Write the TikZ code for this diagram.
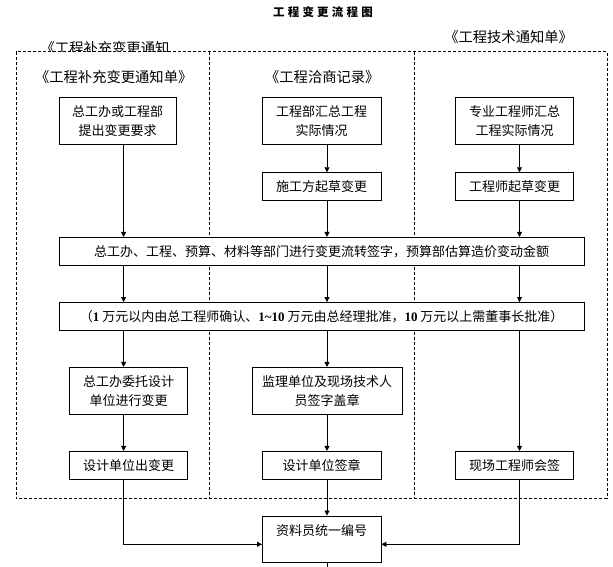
\documentclass[tikz,border=0pt]{standalone}
\usepackage{fontspec}
\setmainfont{Liberation Serif}
\newfontfamily\cjk{Noto Sans CJK SC}
\usetikzlibrary{arrows.meta}
\begin{document}
\begin{tikzpicture}[x=1pt,y=-1pt,
  box/.style={draw, fill=white, line width=0.8pt, align=center, inner sep=0pt,
    font=\cjk\fontsize{13}{19}\selectfont},
  lbl/.style={inner sep=0pt, font=\cjk\fontsize{14.3}{17}\selectfont},
  arr/.style={line width=0.8pt, -{Triangle[length=5pt,width=5pt]}},
  plain/.style={line width=0.8pt},
  frame/.style={line width=0.7pt, dash pattern=on 3pt off 2pt}]
\useasboundingbox (0,0) rectangle (613,567);
% title
\node[inner sep=0pt, font=\cjk\bfseries\fontsize{11.5}{14}\selectfont\addfontfeature{LetterSpace=28}] (title) at (323,11.7) {工程变更流程图};
% dashed frame
\draw[frame] (16,51.7) rectangle (607,498.3);
\draw[frame] (209,51.7) -- (209,498.3);
\draw[frame] (414,51.7) -- (414,498.3);
% labels
\begin{scope}
\clip (0,0) rectangle (613,51.7);
\node[lbl] (l0) at (105,48) {《工程补充变更通知};
\end{scope}
\node[lbl] (l3) at (508.6,36.7) {《工程技术通知单》};
\node[lbl] (l1) at (113.7,77) {《工程补充变更通知单》};
\node[lbl] (l2) at (322.3,77) {《工程洽商记录》};
% column lines
\coordinate (c1) at (123.6,0);
\coordinate (c2) at (327,0);
\coordinate (c3) at (519.5,0);
% connectors (drawn first so boxes sit on top)
\coordinate (m) at (0,544.3);
\coordinate (fend) at (327,567);
% boxes
\node[box, minimum width=117.5pt, minimum height=46.7pt] (b1) at (117.7,120.7) {总工办或工程部\\提出变更要求};
\node[box, minimum width=118.6pt, minimum height=46.7pt] (b2) at (321.7,120.7) {工程部汇总工程\\实际情况};
\node[box, minimum width=117.7pt, minimum height=46.7pt] (b3) at (514.6,120.7) {专业工程师汇总\\工程实际情况};
\node[box, minimum width=118.6pt, minimum height=27.3pt] (s2) at (321.7,186.3) {施工方起草变更};
\node[box, minimum width=117.7pt, minimum height=27.3pt] (s3) at (514.6,186.3) {工程师起草变更};
\node[box, minimum width=525.4pt, minimum height=27.7pt] (w1) at (321.7,251.2) {总工办、工程、预算、材料等部门进行变更流转签字，预算部估算造价变动金额};
\node[box, minimum width=525.4pt, minimum height=27.7pt] (w2) at (321.7,316.3) {（{\rmfamily\bfseries 1} 万元以内由总工程师确认、{\rmfamily\bfseries 1\textasciitilde 10} 万元由总经理批准，{\rmfamily\bfseries 10} 万元以上需董事长批准）};
\node[box, minimum width=117.7pt, minimum height=46.7pt] (d1) at (128.6,390.7) {总工办委托设计\\单位进行变更};
\node[box, minimum width=150pt, minimum height=46.7pt] (d2) at (327,390.7) {监理单位及现场技术人\\员签字盖章};
\node[box, minimum width=117.7pt, minimum height=27.7pt] (e1) at (128.6,465.2) {设计单位出变更};
\node[box, minimum width=118.6pt, minimum height=27.7pt] (e2) at (321.7,465.2) {设计单位签章};
\node[box, minimum width=117.7pt, minimum height=27.7pt] (e3) at (514.6,465.2) {现场工程师会签};
\node[box, minimum width=118.6pt, minimum height=46.7pt, text height=20pt, text depth=26.7pt, inner ysep=0pt] (f) at (321.7,539.3) {资料员统一编号};
% connectors
\draw[arr] (b1.south -| c1) -- (w1.north -| c1);
\draw[arr] (b2.south -| c2) -- (s2.north -| c2);
\draw[arr] (s2.south -| c2) -- (w1.north -| c2);
\draw[arr] (b3.south -| c3) -- (s3.north -| c3);
\draw[arr] (s3.south -| c3) -- (w1.north -| c3);
\foreach \c in {c1,c2,c3} \draw[arr] (w1.south -| \c) -- (w2.north -| \c);
\draw[arr] (w2.south -| c1) -- (d1.north -| c1);
\draw[arr] (w2.south -| c2) -- (d2.north -| c2);
\draw[arr] (w2.south -| c3) -- (e3.north -| c3);
\draw[arr] (d1.south -| c1) -- (e1.north -| c1);
\draw[arr] (d2.south -| c2) -- (e2.north -| c2);
\draw[arr] (e2.south -| c2) -- (f.north -| c2);
\draw[arr] (e1.south -| c1) |- (f.west |- m);
\draw[arr] (e3.south -| c3) |- (f.east |- m);
\draw[plain] (f.south -| c2) -- (fend);
\end{tikzpicture}
\end{document}
